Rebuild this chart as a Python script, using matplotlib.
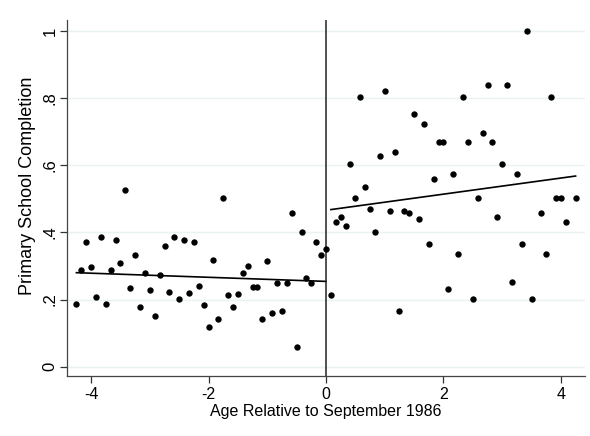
import numpy as np
import matplotlib
matplotlib.use("Agg")
import matplotlib.pyplot as plt

# months relative to September 1986 (x = month / 12)
left_months = list(range(-51, 1))
left_vals = [0.188, 0.289, 0.370, 0.296, 0.208, 0.386, 0.188, 0.289, 0.377, 0.308,
             0.526, 0.233, 0.334, 0.178, 0.279, 0.228, 0.150, 0.274, 0.358, 0.223,
             0.386, 0.201, 0.377, 0.218, 0.370, 0.239, 0.183, 0.118, 0.318, 0.143,
             0.502, 0.212, 0.178, 0.215, 0.279, 0.301, 0.237, 0.237, 0.143, 0.314,
             0.160, 0.249, 0.167, 0.249, 0.457, 0.059, 0.402, 0.265, 0.250, 0.370,
             0.334, 0.352]

right_months = list(range(1, 43)) + [44, 45, 46, 47, 48, 49, 51]
right_vals = [0.212, 0.431, 0.446, 0.419, 0.603, 0.502, 0.804, 0.536, 0.470, 0.402,
              0.628, 0.822, 0.464, 0.639, 0.167, 0.464, 0.457, 0.753, 0.439, 0.724,
              0.365, 0.558, 0.669, 0.669, 0.232, 0.574, 0.335, 0.804, 0.669, 0.201,
              0.504, 0.696, 0.838, 0.669, 0.447, 0.603, 0.838, 0.251, 0.574, 0.366,
              1.000, 0.201, 0.457, 0.335, 0.804, 0.504, 0.504, 0.431, 0.504]

# fitted lines (intercept at 0, slope per year)
fit_intercept = [0.254, 0.466]
fit_slope = [-0.0061, 0.024]

xl = np.array(left_months) / 12
xr = np.array(right_months) / 12
yl = np.array(left_vals)
yr = np.array(right_vals)

plt.rcParams["font.family"] = ["Liberation Sans", "DejaVu Sans"]

fig = plt.figure(figsize=(5.9, 4.36), dpi=100)
ax = fig.add_axes([0.1136, 0.1376, 0.8779, 0.8165])

for y in [0, 0.2, 0.4, 0.6, 0.8, 1]:
    ax.axhline(y, color="#eaf2f3", lw=1, zorder=0)

ax.scatter(xl, yl, s=21, color="black", zorder=3, linewidths=0)
ax.scatter(xr, yr, s=21, color="black", zorder=3, linewidths=0)

for x, a, b in zip([xl, xr], fit_intercept, fit_slope):
    xs = np.array([x.min(), x.max()])
    ax.plot(xs, a + b * xs, color="black", lw=1.2, zorder=2)

ax.axvline(0, color="#222222", lw=1.1, zorder=2)

ax.set_xlim(-4.41, 4.41)
ax.set_ylim(-0.028, 1.033)
ax.set_xticks([-4, -2, 0, 2, 4])
ax.set_xticklabels(["-4", "-2", "0", "2", "4"])
ax.set_yticks([0, 0.2, 0.4, 0.6, 0.8, 1])
ax.set_yticklabels(["0", ".2", ".4", ".6", ".8", "1"], rotation=90, va="center")
ax.tick_params(axis="x", labelsize=11.5, length=5, width=0.9, color="#333333", pad=3)
ax.tick_params(axis="y", labelsize=12, length=5, width=0.9, color="#333333", pad=2)

for side in ["top", "right"]:
    ax.spines[side].set_visible(False)
for side in ["left", "bottom"]:
    ax.spines[side].set_color("#444444")
    ax.spines[side].set_linewidth(0.9)

ax.set_xlabel("Age Relative to September 1986", fontsize=11.5, labelpad=1)
ax.set_ylabel("Primary School Completion", fontsize=13)
ax.yaxis.set_label_coords(-0.06, 0.535)

fig.savefig("out.png", dpi=100)
